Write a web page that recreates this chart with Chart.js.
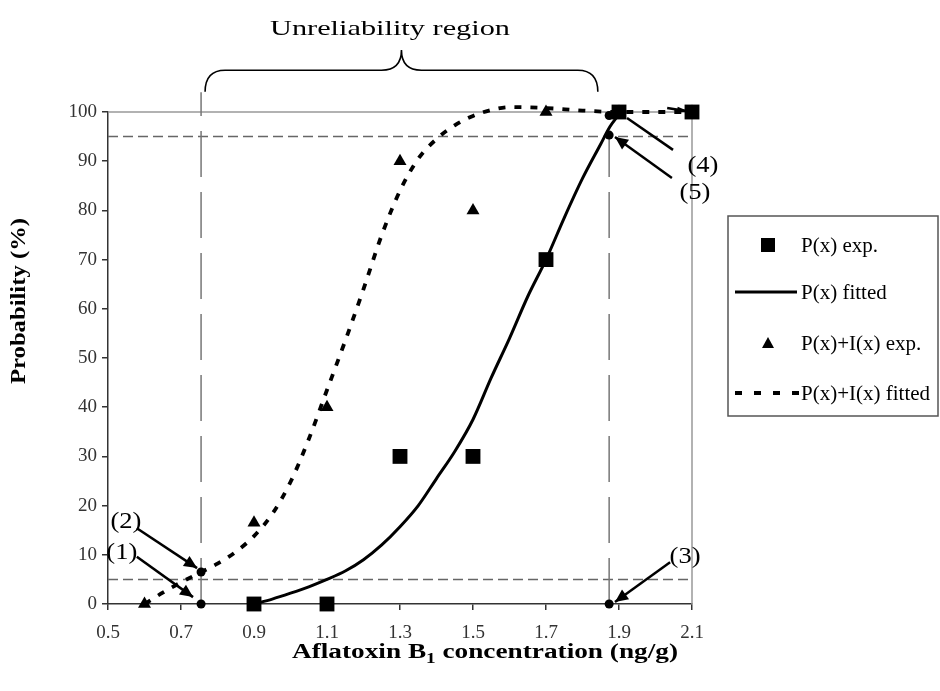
<!DOCTYPE html>
<html>
<head>
<meta charset="utf-8">
<script src="https://cdn.jsdelivr.net/npm/chart.js@4"></script>
<style>
  body { margin: 0; background: #fff; }
</style>
</head>
<body>
<canvas id="chart" width="940" height="691"></canvas>
<script>
// P(x) experimental points (squares)
const pExpX = [0.9, 1.1, 1.3, 1.5, 1.7, 1.9, 2.1];
const pExpY = [0, 0, 30, 30, 70, 100, 100];

// P(x)+I(x) experimental points (triangles)
const piExpX = [0.6, 0.9, 1.1, 1.3, 1.5, 1.7, 1.9, 2.1];
const piExpY = [0, 16.5, 40, 90, 80, 100, 100, 100];

// fitted P(x) (solid)
const pFitX = [0.9, 0.95, 1.0, 1.05, 1.1, 1.15, 1.2, 1.25, 1.3, 1.35, 1.4, 1.45, 1.5, 1.55, 1.6, 1.65, 1.7, 1.75, 1.8, 1.85, 1.875, 1.9];
const pFitY = [0, 1, 2.2, 3.5, 5, 6.7, 9, 12, 15.7, 20, 25.5, 31, 37.5, 46, 54, 62.5, 70, 78.5, 86.5, 93.5, 97, 99.5];

// fitted P(x)+I(x) (dotted)
const piFitX = [0.6, 0.65, 0.7, 0.75, 0.8, 0.85, 0.9, 0.95, 1.0, 1.05, 1.1, 1.15, 1.2, 1.25, 1.3, 1.35, 1.4, 1.45, 1.5, 1.55, 1.6, 1.7, 1.8, 1.9, 2.0, 2.1];
const piFitY = [0, 2.3, 4.4, 6.3, 8.2, 10.6, 13.8, 18.3, 24.8, 33.5, 43.5, 53.5, 64, 75, 84, 90.5, 94.5, 97.3, 99.2, 100.4, 101, 100.8, 100.3, 100, 100, 100];

// marked points (1)..(5)
const markX = [0.755, 0.755, 1.873, 1.873, 1.873];
const markY = [6.5, 0, 0, 95.3, 99.3];

// reliability limits
const limitY = [5, 95];
const limitX = [0.755, 1.873];

// axis ranges
const xMin = 0.5, xMax = 2.1, xStep = 0.2;
const yMin = 0, yMax = 100, yStep = 10;

// annotation labels and arrows, in data units
const noteText = ['(1)', '(2)', '(3)', '(4)', '(5)'];
const noteX = [0.538, 0.549, 2.081, 2.130, 2.108];
const noteY = [10.4, 16.7, 9.6, 89.0, 83.5];
const arrows = [
  [0.579, 9.6, 0.733, 1.4, true],
  [0.579, 15.4, 0.744, 7.3, true],
  [2.040, 8.5, 1.889, 0.4, true],
  [2.048, 92.3, 1.922, 98.8, false],
  [2.045, 86.6, 1.889, 94.9, true],
  [2.032, 100.8, 2.092, 100.1, true]
];

const SERIF = '"Liberation Serif", "Times New Roman", serif';
Chart.defaults.font.family = SERIF;

function toPts(xs, ys) {
  return xs.map((x, i) => ({ x: x, y: ys[i] }));
}

// the original face is a wide serif, so stretch text to the measured width
function wideText(ctx, text, x, y, font, width, align) {
  ctx.font = font;
  const w = ctx.measureText(text).width;
  const sx = width ? width / w : 1;
  ctx.save();
  ctx.translate(x, y);
  ctx.scale(sx, 1);
  ctx.textAlign = align || 'center';
  ctx.fillText(text, 0, 0);
  ctx.restore();
}

function drawArrow(ctx, x1, y1, x2, y2, head, len, half) {
  ctx.beginPath();
  ctx.moveTo(x1, y1);
  ctx.lineTo(x2, y2);
  ctx.stroke();
  if (!head) return;
  const a = Math.atan2(y2 - y1, x2 - x1);
  ctx.beginPath();
  ctx.moveTo(x2, y2);
  ctx.lineTo(x2 - len * Math.cos(a) + half * Math.sin(a), y2 - len * Math.sin(a) - half * Math.cos(a));
  ctx.lineTo(x2 - len * Math.cos(a) - half * Math.sin(a), y2 - len * Math.sin(a) + half * Math.cos(a));
  ctx.closePath();
  ctx.fill();
}

const guides = {
  id: 'guides',
  beforeDatasetsDraw(chart) {
    const { ctx, chartArea: a, scales: { x, y } } = chart;
    ctx.save();
    // grey frame top and right
    ctx.strokeStyle = '#999';
    ctx.lineWidth = 1.5;
    ctx.beginPath();
    ctx.moveTo(a.left, a.top);
    ctx.lineTo(a.right, a.top);
    ctx.lineTo(a.right, a.bottom);
    ctx.stroke();
    // 5% / 95% lines
    ctx.strokeStyle = '#666';
    ctx.setLineDash([10, 5]);
    limitY.forEach(v => {
      const py = y.getPixelForValue(v);
      ctx.beginPath();
      ctx.moveTo(a.left, py);
      ctx.lineTo(a.right, py);
      ctx.stroke();
    });
    // region limits
    ctx.strokeStyle = '#777';
    ctx.setLineDash([46, 15]);
    limitX.forEach((v, i) => {
      const px = x.getPixelForValue(v);
      ctx.beginPath();
      ctx.moveTo(px, a.bottom);
      ctx.lineTo(px, y.getPixelForValue(i === 0 ? 104 : 100));
      ctx.stroke();
    });
    ctx.restore();
  },
  afterDatasetsDraw(chart) {
    const { ctx, scales: { x, y } } = chart;
    ctx.save();
    ctx.strokeStyle = '#000';
    ctx.fillStyle = '#000';
    ctx.lineWidth = 2.5;
    arrows.forEach((r, i) => {
      const small = i === arrows.length - 1;
      drawArrow(ctx, x.getPixelForValue(r[0]), y.getPixelForValue(r[1]),
        x.getPixelForValue(r[2]), y.getPixelForValue(r[3]), r[4],
        small ? 12 : 13, small ? 3 : 6);
    });
    ctx.textBaseline = 'middle';
    noteText.forEach((t, i) => {
      wideText(ctx, t, x.getPixelForValue(noteX[i]), y.getPixelForValue(noteY[i]),
        '23px ' + SERIF, 31, 'center');
    });
    ctx.restore();
  },
  afterDraw(chart) {
    const { ctx, scales: { x, y } } = chart;
    ctx.save();
    ctx.fillStyle = '#000';
    ctx.strokeStyle = '#000';

    // brace over the unreliability region
    const L = x.getPixelForValue(0.766), R = x.getPixelForValue(1.842), M = x.getPixelForValue(1.304);
    const yEnd = y.getPixelForValue(104.1), yMid = y.getPixelForValue(108.5), yTip = y.getPixelForValue(112.6);
    const r = 20;
    ctx.lineWidth = 1.6;
    ctx.beginPath();
    ctx.moveTo(L, yEnd);
    ctx.quadraticCurveTo(L, yMid, L + r, yMid);
    ctx.lineTo(M - r, yMid);
    ctx.quadraticCurveTo(M, yMid, M, yTip);
    ctx.quadraticCurveTo(M, yMid, M + r, yMid);
    ctx.lineTo(R - r, yMid);
    ctx.quadraticCurveTo(R, yMid, R, yEnd);
    ctx.stroke();

    ctx.textBaseline = 'alphabetic';
    wideText(ctx, 'Unreliability region', 390, 35, '22px ' + SERIF, 240, 'center');

    // x axis title with subscript
    const big = 'bold 20px ' + SERIF, sub = 'bold 14px ' + SERIF;
    const parts = [['Aflatoxin B', big, 0], ['1', sub, 5], [' concentration (ng/g)', big, 0]];
    let total = 0;
    parts.forEach(p => { ctx.font = p[1]; p.push(ctx.measureText(p[0]).width); total += p[3]; });
    const sx = 386 / total;
    ctx.save();
    ctx.translate(485 - 386 / 2, 658);
    ctx.scale(sx, 1);
    ctx.textAlign = 'left';
    let cx = 0;
    parts.forEach(p => { ctx.font = p[1]; ctx.fillText(p[0], cx, p[2]); cx += p[3]; });
    ctx.restore();

    // y axis title
    ctx.save();
    ctx.translate(20, 301);
    ctx.rotate(-Math.PI / 2);
    ctx.textBaseline = 'middle';
    wideText(ctx, 'Probability (%)', 0, 0, 'bold 20px ' + SERIF, 166, 'center');
    ctx.restore();

    // legend box
    const lx = 728, ly = 216, lw = 210, lh = 200;
    ctx.strokeStyle = '#555';
    ctx.lineWidth = 1.5;
    ctx.strokeRect(lx, ly, lw, lh);
    const rows = [245, 292, 343, 393];
    const ds = chart.data.datasets;
    ctx.fillStyle = '#000';
    ctx.strokeStyle = '#000';
    // square
    ctx.fillRect(768 - 7, rows[0] - 7, 14, 14);
    // solid line
    ctx.lineWidth = 3;
    ctx.beginPath(); ctx.moveTo(735, rows[1]); ctx.lineTo(797, rows[1]); ctx.stroke();
    // triangle
    ctx.beginPath();
    ctx.moveTo(768, rows[2] - 6); ctx.lineTo(774, rows[2] + 5); ctx.lineTo(762, rows[2] + 5);
    ctx.closePath(); ctx.fill();
    // dotted line
    ctx.lineWidth = 4;
    ctx.setLineDash([7, 12]);
    ctx.beginPath(); ctx.moveTo(735, rows[3]); ctx.lineTo(804, rows[3]); ctx.stroke();
    ctx.setLineDash([]);
    ctx.textBaseline = 'middle';
    [ds[0].label, ds[3].label, ds[1].label, ds[4].label].forEach((t, i) => {
      wideText(ctx, t, 801, rows[i] + 1, '21px ' + SERIF, null, 'left');
    });
    ctx.restore();
  }
};

new Chart(document.getElementById('chart'), {
  type: 'scatter',
  data: {
    datasets: [
      {
        label: 'P(x) exp.',
        data: toPts(pExpX, pExpY),
        pointStyle: 'rect',
        pointRadius: 10.5,
        backgroundColor: '#000',
        borderColor: '#000',
        borderWidth: 0,
        clip: false
      },
      {
        label: 'P(x)+I(x) exp.',
        data: toPts(piExpX, piExpY),
        pointStyle: 'triangle',
        pointRadius: 7.5,
        backgroundColor: '#000',
        borderColor: '#000',
        borderWidth: 0,
        clip: false
      },
      {
        label: 'points',
        data: toPts(markX, markY),
        pointStyle: 'circle',
        pointRadius: 4.5,
        backgroundColor: '#000',
        borderColor: '#000',
        borderWidth: 0,
        clip: false
      },
      {
        label: 'P(x) fitted',
        data: toPts(pFitX, pFitY),
        showLine: true,
        pointRadius: 0,
        borderColor: '#000',
        borderWidth: 3,
        cubicInterpolationMode: 'monotone',
        clip: false
      },
      {
        label: 'P(x)+I(x) fitted',
        data: toPts(piFitX, piFitY),
        showLine: true,
        pointRadius: 0,
        borderColor: '#000',
        borderWidth: 3.8,
        borderDash: [7, 9],
        cubicInterpolationMode: 'monotone',
        clip: false
      }
    ]
  },
  options: {
    responsive: false,
    animation: false,
    layout: { padding: { top: 112, right: 248, bottom: 0, left: 0 } },
    plugins: {
      legend: { display: false },
      tooltip: { enabled: false }
    },
    scales: {
      x: {
        type: 'linear',
        min: xMin,
        max: xMax,
        afterFit: s => { s.height = 87; },
        ticks: {
          stepSize: xStep,
          autoSkip: false,
          maxRotation: 0,
          padding: 12,
          color: '#333',
          font: { size: 19 },
          callback: v => v.toFixed(1)
        },
        grid: { drawOnChartArea: false, tickLength: 6, color: '#333', lineWidth: 1.5 },
        border: { color: '#333', width: 1.5 }
      },
      y: {
        min: yMin,
        max: yMax,
        afterFit: s => { s.width = 108; },
        ticks: {
          stepSize: yStep,
          padding: 5,
          color: '#333',
          font: { size: 19 }
        },
        grid: { drawOnChartArea: false, tickLength: 6, color: '#333', lineWidth: 1.5 },
        border: { color: '#333', width: 1.5 }
      }
    }
  },
  plugins: [guides]
});
</script>
</body>
</html>
